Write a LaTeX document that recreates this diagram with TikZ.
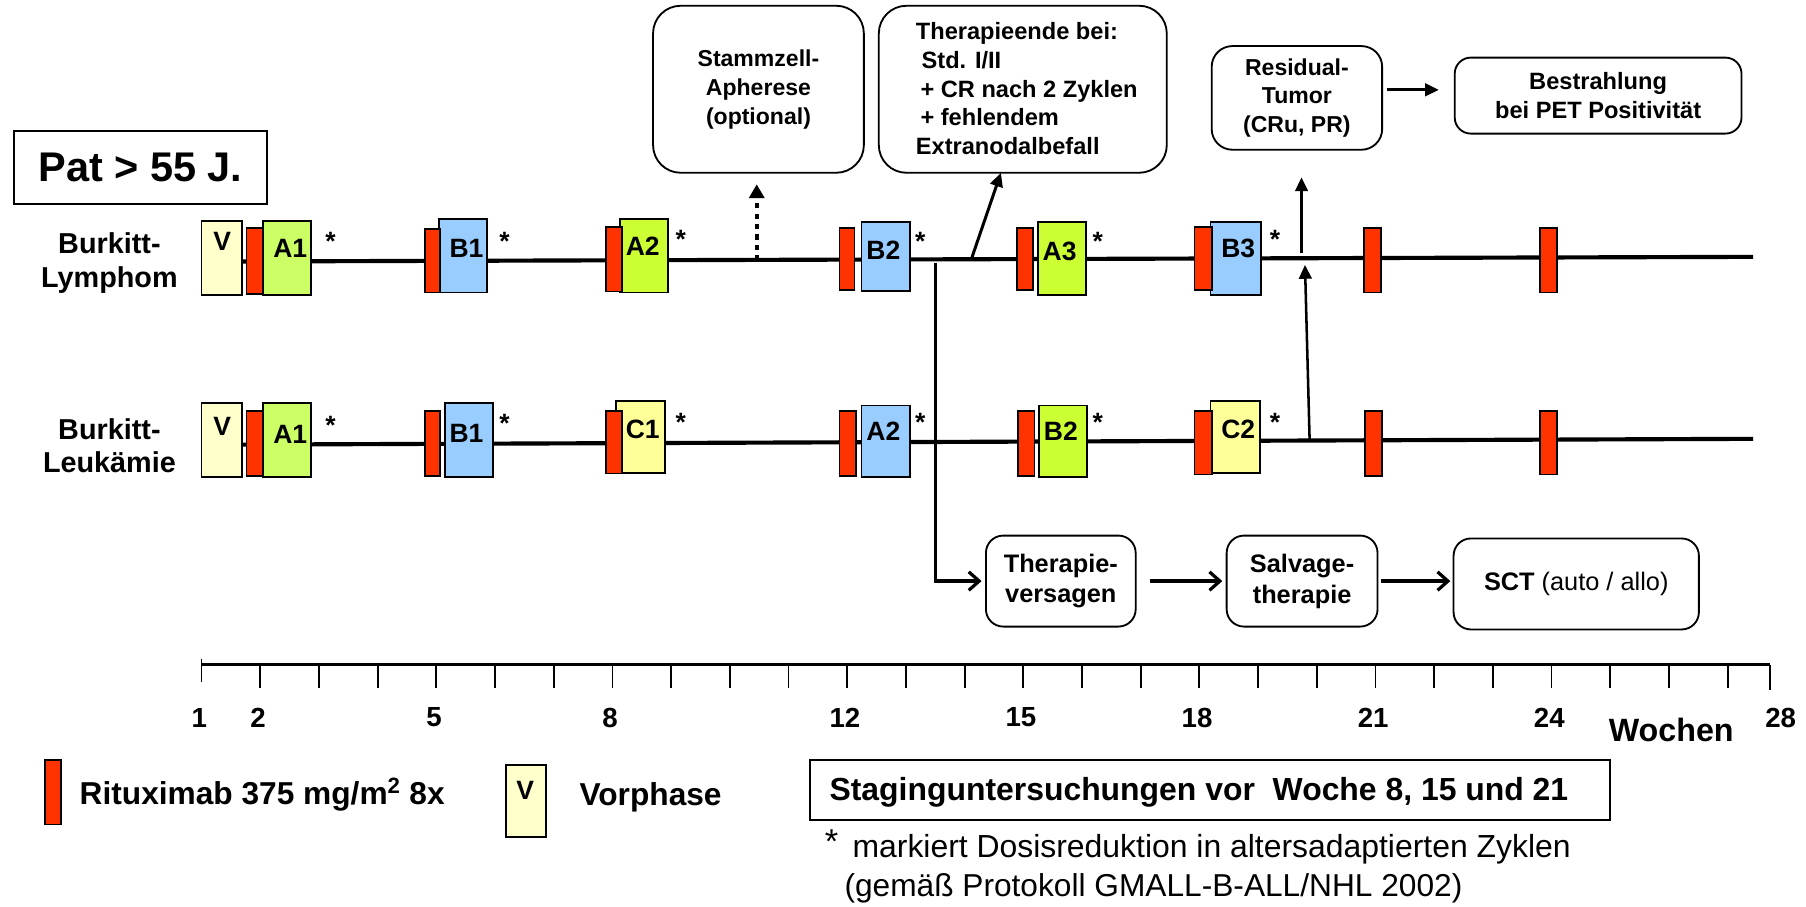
\documentclass[tikz,border=0pt]{standalone}
\usepackage{fontspec}
\setmainfont{Liberation Sans}
\usetikzlibrary{arrows.meta,calc}
\definecolor{rit}{HTML}{FF3300}
\definecolor{cgA}{HTML}{CCFF66}
\definecolor{cgB}{HTML}{CCFF33}
\definecolor{cblue}{HTML}{99CCFF}
\definecolor{cvor}{HTML}{FFFFCC}
\definecolor{cC}{HTML}{FFFF99}
\newcommand{\fsz}[2]{\fontsize{#1}{#2}\selectfont}
\begin{document}
\begin{tikzpicture}[x=1pt,y=-1pt,
  cyc/.style={draw, line width=1.6pt, minimum width=42pt, minimum height=63pt, inner sep=0pt},
  ritb/.style={draw, fill=rit, line width=1.4pt, minimum width=14pt, minimum height=56pt, inner sep=0pt},
  cyclbl/.style={font=\bfseries\fsz{23}{25}, inner sep=0pt},
  star/.style={font=\bfseries\fsz{23}{24}, inner sep=0pt},
  rbox/.style={draw, line width=1.6pt, align=center, inner sep=0pt},
  boxtxt/.style={font=\bfseries\fsz{20}{25}},
  mainline/.style={line width=3.6pt},
  conn/.style={line width=2.2pt, -{Triangle[width=11pt,length=12pt]}},
  barb/.style={line width=2.8pt, -{Straight Barb[width=16pt,length=9pt,line width=2.8pt]}},
  tick/.style={line width=1.6pt},
  axlbl/.style={font=\bfseries\fsz{24}{26}, inner sep=0pt},
  legtxt/.style={font=\bfseries\fsz{27.5}{30}, inner sep=0pt, anchor=west},
]
\useasboundingbox (0,0) rectangle (1568,787);

% ---------- title box ----------
\node[draw, line width=1.6pt, minimum width=220pt, minimum height=63pt, inner sep=0pt,
      font=\bfseries\fsz{36}{40}] (pat) at (122,145.5) {Pat > 55 J.};

% ---------- row labels ----------
\node[font=\bfseries\fsz{25}{29}, align=center] (lym) at (95,228.5) {Burkitt-\\Lymphom};
\node[font=\bfseries\fsz{25}{29}, align=center] (leu) at (95,387) {Burkitt-\\Leukämie};

% ---------- top row ----------
\node[cyc, fill=cvor, minimum width=35pt, minimum height=64pt] (V1) at (192.5,224) {};
\coordinate (L1e) at (1522,223);
\draw[mainline] (V1.east |- 0,227) -- (L1e);
\node[cyclbl] (V1t) at (193,210) {V};
\node[cyc, fill=cgA, minimum height=64pt] (A1) at (249,224) {};
\node[cyclbl] (A1t) at (252,216) {A1};
\node[ritb, minimum height=57pt] (R1a) at (221,226.5) {};
\node[star] (s1a) at (287,210) {*};

\node[cyc, fill=cblue, minimum height=64pt] (B1) at (402,222) {};
\node[cyclbl] (B1t) at (405,216) {B1};
\node[ritb, minimum width=13pt, minimum height=55pt] (R1b) at (375.5,226.5) {};
\node[star] (s1b) at (438,210) {*};

\node[cyc, fill=cgB, minimum height=64pt] (A2) at (559,222) {};
\node[cyclbl] (A2t) at (558,214) {A2};
\node[ritb] (R1c) at (533,225) {};
\node[star] (s1c) at (591,208) {*};

\node[cyc, fill=cblue, minimum height=60pt] (B2) at (769,223) {};
\node[cyclbl] (B2t) at (767,217) {B2};
\node[ritb, minimum width=13pt, minimum height=54pt] (R1d) at (735.5,225) {};
\node[star] (s1d) at (799,210) {*};

\node[cyc, fill=cgB] (A3) at (922,224.5) {};
\node[cyclbl] (A3t) at (920,218) {A3};
\node[ritb, minimum height=54pt] (R1e) at (890,225) {};
\node[star] (s1e) at (953,210) {*};

\node[cyc, fill=cblue, minimum width=44pt] (B3) at (1073,224.5) {};
\node[cyclbl] (B3t) at (1075,216) {B3};
\node[ritb, minimum width=15pt, minimum height=55pt] (R1f) at (1044.5,224.5) {};
\node[star] (s1f) at (1107,208) {*};

\node[ritb, minimum width=15pt] (R1g) at (1191.5,226) {};
\node[ritb, minimum width=15pt] (R1h) at (1344.5,226) {};

% ---------- bottom row ----------
\node[cyc, fill=cvor, minimum width=35pt, minimum height=64pt] (V2) at (192.5,382) {};
\coordinate (L2e) at (1522,381);
\draw[mainline] (V2.east |- 0,386) -- (L2e);
\node[cyclbl] (V2t) at (193,370) {V};
\node[cyc, fill=cgA, minimum height=64pt] (A1b) at (249,382) {};
\node[cyclbl] (A1bt) at (252,377) {A1};
\node[ritb] (R2a) at (221,385) {};
\node[star] (s2a) at (287,369) {*};

\node[cyc, fill=cblue, minimum height=64pt] (B1b) at (407,382) {};
\node[cyclbl] (B1bt) at (405,376) {B1};
\node[ritb, minimum width=13pt] (R2b) at (375.5,385) {};
\node[star] (s2b) at (438,368) {*};

\node[cyc, fill=cC] (C1) at (556,379.5) {};
\node[cyclbl] (C1t) at (558,373) {C1};
\node[ritb, minimum height=54pt] (R2c) at (533,384) {};
\node[star] (s2c) at (591,367) {*};

\node[cyc, fill=cblue, minimum height=62pt] (A2b) at (769,383) {};
\node[cyclbl] (A2bt) at (767,374) {A2};
\node[ritb] (R2d) at (736,385) {};
\node[star] (s2d) at (799,367) {*};

\node[cyc, fill=cgB, minimum height=62pt] (B2b) at (923,383) {};
\node[cyclbl] (B2bt) at (921,374) {B2};
\node[ritb] (R2e) at (891,385) {};
\node[star] (s2e) at (953,367) {*};

\node[cyc, fill=cC, minimum width=43pt] (C2) at (1072.5,379.5) {};
\node[cyclbl] (C2t) at (1075,373) {C2};
\node[ritb, minimum width=15pt, minimum height=55pt] (R2f) at (1044.5,384.5) {};
\node[star] (s2f) at (1107,367) {*};

\node[ritb, minimum width=15pt] (R2g) at (1192.5,385) {};
\node[ritb, minimum width=15pt, minimum height=55pt] (R2h) at (1344.5,384.5) {};

% ---------- upper boxes ----------
\node[rbox, rounded corners=24pt, minimum width=183pt, minimum height=145pt, boxtxt]
  (stamm) at (658.5,77.5) {Stammzell-\\Apherese\\(optional)};
\node[rbox, rounded corners=24pt, minimum width=250pt, minimum height=145pt]
  (thend) at (888,77.5) {};
\node[anchor=west, align=left, inner sep=0pt, font=\bfseries\fsz{20.5}{25}] (thendt) at (795,77)
  {Therapieende bei:\\\hspace*{5pt}Std. I/II\\\hspace*{4pt}+ CR nach 2 Zyklen\\\hspace*{4pt}+ fehlendem\\Extranodalbefall};
\node[rbox, rounded corners=18pt, minimum width=148pt, minimum height=90pt, boxtxt]
  (resid) at (1126,85) {Residual-\\Tumor\\(CRu, PR)};
\node[rbox, rounded corners=14pt, minimum width=249pt, minimum height=66pt, font=\bfseries\fsz{20.5}{25}]
  (bestr) at (1387.5,83) {Bestrahlung\\bei PET Positivität};

% ---------- lower boxes ----------
\node[rbox, rounded corners=15pt, minimum width=130pt, minimum height=79pt, font=\bfseries\fsz{22}{26}]
  (therver) at (921,504.5) {Therapie-\\versagen};
\node[rbox, rounded corners=15pt, minimum width=131pt, minimum height=79pt, font=\bfseries\fsz{22}{27}]
  (salv) at (1130.5,504.5) {Salvage-\\therapie};
\node[rbox, rounded corners=15pt, minimum width=213pt, minimum height=79pt, font=\fsz{22}{26}]
  (sct) at (1368.5,507) {\textbf{SCT} (auto / allo)};

% ---------- connectors ----------
\coordinate (dotS) at (657,226);
\coordinate (dotE) at (657,160);
\draw[line width=3.6pt, dash pattern=on 4.5pt off 4.5pt, -{Triangle[width=13pt,length=12pt]}] (dotS) -- (dotE);
\coordinate (diagS) at (843,226);
\coordinate (diagE) at (869,150);
\draw[conn, line width=2.6pt] (diagS) -- (diagE);
\coordinate (resS) at (1130,220);
\coordinate (resE) at (1130,154);
\draw[conn] (resS) -- (resE);
\coordinate (upS) at (1137,381);
\coordinate (upE) at (1133,230);
\draw[conn] (upS) -- (upE);
\coordinate (brS) at (812,228);
\draw[barb] (brS) |- ([xshift=-3pt]therver.west);
\draw[barb, shorten <=12pt, shorten >=3pt] (therver.east) -- (salv.west);
\draw[barb, shorten <=2pt, shorten >=2pt] (salv.east) -- (sct.west |- salv.east);
\draw[conn, line width=2.4pt, shorten <=3pt, shorten >=13pt] (resid.east |- 0,78) -- (bestr.west |- 0,78);

% ---------- axis ----------
\coordinate (ax0) at (175,577);
\coordinate (ax1) at (1537,577);
\draw[line width=2.6pt] (ax0) -- (ax1);
\draw[tick] (175,572) -- (175,592);
\foreach \n in {2,...,27} {
  \draw[tick] ({175+(\n-1)*50.96},577) -- ({175+(\n-1)*50.96},597);
}
\draw[tick] (1537,577) -- (1537,599);
\foreach \n in {1,2,5,8,12,15,18,21,24} {
  \node[axlbl] (wk\n) at ({173+(\n-1)*50.96},623) {\n};
}
\node[axlbl] (wk28) at (1546,623) {28};
\node[font=\bfseries\fsz{28}{30}, inner sep=0pt] (woch) at (1451,634) {Wochen};

% ---------- legend ----------
\node[ritb] (legR) at (46,688) {};
\node[legtxt] (legRt) at (69,690) {Rituximab 375 mg/m\textsuperscript{2} 8x};
\node[cyc, fill=cvor, minimum width=35pt, minimum height=63pt] (legV) at (456.5,695.5) {};
\node[cyclbl] (legVt) at (456,686) {V};
\node[legtxt] (legVo) at (503,692) {Vorphase};
\node[draw, line width=1.6pt, minimum width=695pt, minimum height=52pt] (stag) at (1050.5,686) {};
\node[legtxt, font=\bfseries\fsz{27.7}{30}] (stagt) at (720,688) {Staginguntersuchungen vor\ \ Woche 8, 15 und 21};
\node[font=\fsz{30}{30}, inner sep=0pt] (fstar) at (722,731) {*};
\node[legtxt, font=\fsz{27.7}{30}] (fn1) at (740,737) {markiert Dosisreduktion in altersadaptierten Zyklen};
\node[legtxt, font=\fsz{27.5}{30}] (fn2) at (733,771) {(gemäß Protokoll GMALL-B-ALL/NHL 2002)};
\end{tikzpicture}
\end{document}
